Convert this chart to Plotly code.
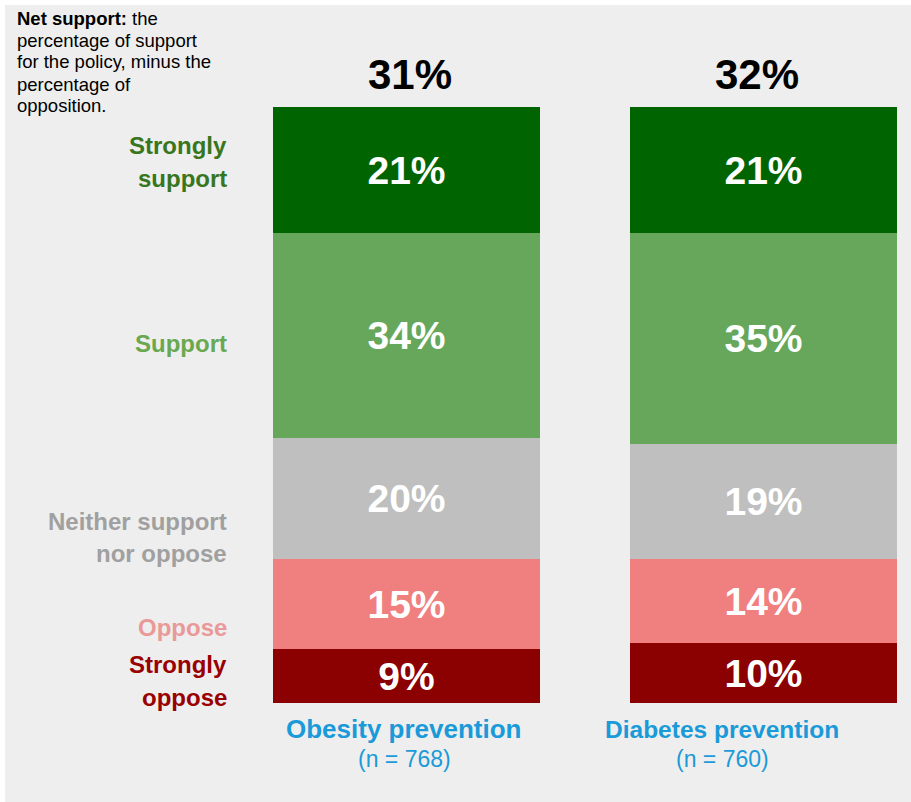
import plotly.graph_objects as go

# Survey responses (percent of respondents)
policies = ["Obesity prevention", "Diabetes prevention"]
sample_sizes = [768, 760]
responses = ["Strongly oppose", "Oppose", "Neither support nor oppose", "Support", "Strongly support"]
strongly_support = [21, 21]
support = [34, 35]
neither = [20, 19]
oppose = [15, 14]
strongly_oppose = [9, 10]

series = {
    "Strongly oppose": strongly_oppose,
    "Oppose": oppose,
    "Neither support nor oppose": neither,
    "Support": support,
    "Strongly support": strongly_support,
}
bar_colors = {
    "Strongly oppose": "#8b0000",
    "Oppose": "#f08080",
    "Neither support nor oppose": "#bfbfbf",
    "Support": "#66a75c",
    "Strongly support": "#006400",
}
label_colors = {
    "Strongly oppose": "#990000",
    "Oppose": "#ea9999",
    "Neither support nor oppose": "#a0a0a0",
    "Support": "#6aa84f",
    "Strongly support": "#38761d",
}

W, H = 911, 802
FONT = "Liberation Sans, Arial, sans-serif"


def px(x):
    return x / W


def py(y):
    return 1 - y / H


xs = [0, 1]
fig = go.Figure()
for name in responses:
    vals = series[name]
    fig.add_trace(go.Bar(
        x=xs, y=vals, name=name,
        marker=dict(color=bar_colors[name], line=dict(width=0)),
        width=0.75,
        text=[f"{v}%" for v in vals],
        textposition="inside",
        insidetextanchor="middle",
        constraintext="none",
        textfont=dict(family=FONT, size=39, color="white", weight="bold"),
        hoverinfo="skip",
    ))

annotations = []

# Net support above each bar
net = [strongly_support[i] + support[i] - oppose[i] - strongly_oppose[i] for i in range(2)]
net_x = [410, 757]
for i in range(2):
    annotations.append(dict(
        x=px(net_x[i]), y=py(74), xref="paper", yref="paper",
        text=f"<b>{net[i]}%</b>", showarrow=False,
        font=dict(family=FONT, size=42, color="black"),
        xanchor="center", yanchor="middle",
    ))

# Policy names and sample sizes
name_x = [404, 722]
name_sizes = [26, 24.5]
for i in range(2):
    annotations.append(dict(
        x=px(name_x[i]), y=py(729), xref="paper", yref="paper",
        text=f"<b>{policies[i]}</b>", showarrow=False,
        font=dict(family=FONT, size=name_sizes[i], color="#1a9ad8"),
        xanchor="center", yanchor="middle",
    ))
    annotations.append(dict(
        x=px(name_x[i]), y=py(759), xref="paper", yref="paper",
        text=f"(n = {sample_sizes[i]})", showarrow=False,
        font=dict(family=FONT, size=23, color="#1a9ad8"),
        xanchor="center", yanchor="middle",
    ))

# Response category labels on the left, one line at a time
left_lines = [
    ("Strongly support", "Strongly", 145),
    ("Strongly support", "support", 178),
    ("Support", "Support", 344),
    ("Neither support nor oppose", "Neither support", 521),
    ("Neither support nor oppose", "nor oppose", 553),
    ("Oppose", "Oppose", 627),
    ("Strongly oppose", "Strongly", 664),
    ("Strongly oppose", "oppose", 697),
]
for key, txt, yc in left_lines:
    annotations.append(dict(
        x=px(229), y=py(yc), xref="paper", yref="paper",
        text=f"<b>{txt}</b>", showarrow=False,
        font=dict(family=FONT, size=24, color=label_colors[key]),
        xanchor="right", yanchor="middle", align="right",
    ))

# Explanatory note
note_lines = [
    ("<b>Net support:</b> the", 18),
    ("percentage of support", 40),
    ("for the policy, minus the", 62),
    ("percentage of", 84),
    ("opposition.", 106),
]
for txt, yc in note_lines:
    annotations.append(dict(
        x=px(15), y=py(yc), xref="paper", yref="paper",
        text=txt, showarrow=False, align="left",
        font=dict(family=FONT, size=18.5, color="black"),
        xanchor="left", yanchor="middle",
    ))

# x range: bar centres at 406.5px and 763.5px, 357px per unit
unit = 357.0
x_lo = -406.5 / unit
x_hi = 1 + (W - 763.5) / unit

fig.update_layout(
    width=W, height=H,
    margin=dict(l=0, r=0, t=0, b=0),
    barmode="stack",
    bargap=0,
    showlegend=False,
    paper_bgcolor="white",
    plot_bgcolor="rgba(0,0,0,0)",
    xaxis=dict(visible=False, range=[x_lo, x_hi], domain=[0, 1], fixedrange=True),
    yaxis=dict(visible=False, range=[0, 99], domain=[py(703), py(107)], fixedrange=True),
    annotations=annotations,
    shapes=[dict(
        type="rect", xref="paper", yref="paper",
        x0=px(5), x1=1, y0=0, y1=py(5),
        fillcolor="#eeeeee", line=dict(width=0), layer="below",
    )],
)

fig.write_html("out.html")
